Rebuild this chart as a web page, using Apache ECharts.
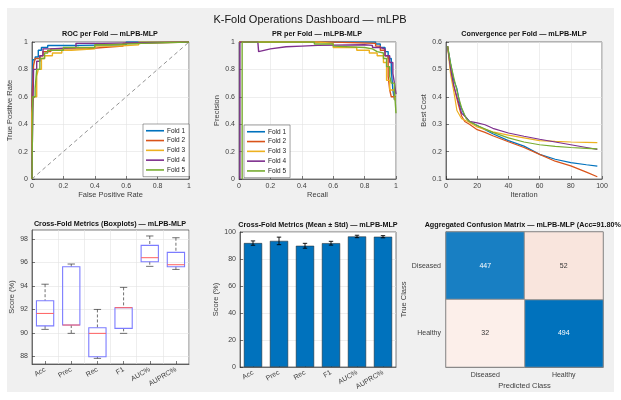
<!DOCTYPE html>
<html>
<head>
<meta charset="utf-8">
<script src="https://cdn.jsdelivr.net/npm/echarts@6/dist/echarts.min.js"></script>
<style>
  html, body { margin: 0; padding: 0; background: #fff; }
  #chart { width: 621px; height: 400px; }
</style>
</head>
<body>
<div id="chart"></div>
<script>
// ---- data ----
var foldNames = ['Fold 1', 'Fold 2', 'Fold 3', 'Fold 4', 'Fold 5'];
var foldColors = ['#0072BD', '#D95319', '#EDB120', '#7E2F8E', '#77AC30'];

// ROC curves [fpr, tpr]
var roc1 = [[0,0],[0,0.6],[0.005,0.6],[0.005,0.87],[0.02,0.87],[0.02,0.89],[0.04,0.89],[0.04,0.94],[0.06,0.94],[0.06,0.96],[0.1,0.96],[0.1,0.975],[0.3,0.975],[0.3,0.98],[0.6,0.98],[0.6,1],[1,1]];
var roc2 = [[0,0],[0,0.6],[0.01,0.6],[0.01,0.83],[0.02,0.83],[0.02,0.88],[0.05,0.88],[0.05,0.9],[0.07,0.9],[0.07,0.93],[0.12,0.93],[0.12,0.95],[0.35,0.95],[0.35,0.96],[0.45,0.96],[0.45,0.97],[0.58,0.97],[0.58,0.99],[0.65,0.99],[0.65,1],[1,1]];
var roc3 = [[0,0],[0,0.48],[0.01,0.48],[0.01,0.6],[0.03,0.6],[0.03,0.75],[0.04,0.75],[0.04,0.8],[0.06,0.8],[0.06,0.88],[0.08,0.88],[0.08,0.9],[0.13,0.9],[0.13,0.92],[0.19,0.92],[0.19,0.94],[0.25,0.94],[0.25,0.95],[0.4,0.95],[0.4,0.97],[0.55,0.97],[0.55,0.98],[0.68,0.98],[0.68,1],[1,1]];
var roc4 = [[0,0],[0,0.12],[0.01,0.12],[0.01,0.8],[0.03,0.8],[0.03,0.86],[0.05,0.86],[0.05,0.9],[0.07,0.9],[0.07,0.95],[0.12,0.95],[0.12,0.96],[0.28,0.96],[0.28,0.99],[0.45,0.99],[0.45,1],[1,1]];
var roc5 = [[0,0],[0.005,0],[0.005,0.6],[0.02,0.6],[0.02,0.66],[0.03,0.66],[0.03,0.8],[0.05,0.8],[0.05,0.88],[0.08,0.88],[0.08,0.92],[0.1,0.92],[0.1,0.94],[0.2,0.94],[0.2,0.96],[0.4,0.96],[0.4,0.98],[0.5,0.98],[0.5,0.99],[0.7,0.99],[0.7,1],[1,1]];
var chance = [[0,0],[1,1]];

// PR curves [recall, precision]
var pr1 = [[0,1],[0.87,1],[0.87,0.985],[0.9,0.985],[0.9,0.96],[0.93,0.96],[0.93,0.93],[0.95,0.93],[0.95,0.88],[0.97,0.88],[0.97,0.8],[0.98,0.8],[0.98,0.65],[0.99,0.65],[0.99,0.58],[1,0.58]];
var pr2 = [[0,1],[0.6,1],[0.6,0.99],[0.87,0.99],[0.87,0.97],[0.9,0.97],[0.9,0.94],[0.93,0.94],[0.93,0.9],[0.95,0.9],[0.95,0.75],[0.96,0.75],[0.96,0.65],[0.97,0.65],[0.97,0.6],[1,0.6]];
var pr3 = [[0,1],[0.5,1],[0.5,0.99],[0.6,0.99],[0.6,0.96],[0.75,0.96],[0.75,0.94],[0.83,0.94],[0.83,0.92],[0.88,0.92],[0.88,0.9],[0.92,0.9],[0.92,0.85],[0.94,0.85],[0.94,0.72],[0.96,0.72],[0.96,0.65],[0.99,0.65],[0.99,0.58],[1,0.58]];
var pr4 = [[0.006,0],[0.006,1],[0.12,1],[0.125,0.93],[0.2,0.95],[0.3,0.965],[0.4,0.97],[0.5,0.975],[0.8,0.98],[0.85,0.975],[0.85,0.96],[0.9,0.96],[0.9,0.95],[0.93,0.95],[0.93,0.9],[0.96,0.9],[0.96,0.85],[0.98,0.85],[0.98,0.77],[0.99,0.77],[0.99,0.7],[1,0.7],[1,0.62]];
var pr5 = [[0.02,0],[0.02,1],[0.48,1],[0.48,0.985],[0.6,0.985],[0.6,0.97],[0.8,0.96],[0.85,0.95],[0.88,0.93],[0.92,0.92],[0.92,0.88],[0.94,0.88],[0.94,0.82],[0.96,0.82],[0.96,0.75],[0.97,0.75],[0.97,0.7],[0.99,0.7],[0.99,0.65],[1,0.65],[1,0.48]];

// convergence [iteration, best cost]
var conv1 = [[1,0.585],[3,0.52],[5,0.46],[7,0.43],[9,0.37],[12,0.33],[15,0.31],[20,0.295],[25,0.28],[30,0.265],[40,0.24],[50,0.22],[60,0.19],[70,0.172],[80,0.16],[90,0.152],[97,0.147]];
var conv2 = [[1,0.585],[3,0.5],[5,0.44],[8,0.37],[10,0.33],[12,0.31],[15,0.3],[20,0.28],[25,0.27],[30,0.258],[40,0.236],[50,0.215],[60,0.19],[70,0.165],[80,0.148],[90,0.125],[97,0.108]];
var conv3 = [[1,0.585],[3,0.48],[5,0.42],[7,0.35],[10,0.32],[14,0.31],[20,0.29],[30,0.272],[40,0.26],[50,0.25],[60,0.24],[70,0.237],[80,0.235],[90,0.234],[97,0.233]];
var conv4 = [[1,0.585],[3,0.5],[5,0.44],[8,0.38],[10,0.34],[12,0.33],[15,0.31],[20,0.305],[25,0.298],[30,0.285],[40,0.268],[50,0.256],[60,0.245],[70,0.235],[80,0.225],[90,0.215],[97,0.208]];
var conv5 = [[1,0.585],[3,0.52],[5,0.47],[8,0.4],[10,0.36],[13,0.32],[15,0.31],[20,0.295],[30,0.27],[40,0.25],[50,0.235],[60,0.225],[70,0.219],[80,0.215],[90,0.212],[97,0.21]];

// metrics
var metricNames = ['Acc', 'Prec', 'Rec', 'F1', 'AUC%', 'AUPRC%'];
// [lowWhisker, q1, median, q3, highWhisker]
var boxStats = [
  [90.3, 90.6, 91.66, 92.74, 94.15],
  [89.96, 90.67, 90.67, 95.64, 95.87],
  [87.83, 87.97, 89.96, 90.44, 92.0],
  [89.96, 90.39, 92.15, 92.15, 93.88],
  [95.67, 96.07, 96.41, 97.46, 98.26],
  [95.41, 95.64, 95.81, 96.86, 98.11]
];
var boxTicks = [88, 90, 92, 94, 96, 98];
var meanScores = [91.8, 93.4, 89.8, 91.7, 96.7, 96.5];
var stdScores = [1.6, 2.8, 1.8, 1.4, 0.9, 0.8];

// confusion matrix rows = true class, cols = predicted class
var cmClasses = ['Diseased', 'Healthy'];
var cmCounts = [[447, 52], [32, 494]];

// ---- build ----
var font = 'Liberation Sans, Arial, sans-serif';
var axisCol = '#262626';
var labCol = '#404040';
var gridCol = '#e3e3e3';

var grids = [
  { left: 32, top: 42, width: 157, height: 137 },
  { left: 239, top: 42, width: 157, height: 137 },
  { left: 446, top: 42, width: 156, height: 137 },
  { left: 32, top: 230, width: 157, height: 134 },
  { left: 240, top: 232, width: 156, height: 135 },
  { left: 446, top: 232, width: 157, height: 135 }
].map(function (g) {
  return Object.assign({ show: true, backgroundColor: '#fff', borderColor: axisCol, borderWidth: 0.6 }, g);
});

function valAxis(gi, min, max, interval, name, gap) {
  return {
    type: 'value', gridIndex: gi, min: min, max: max, interval: interval,
    name: name, nameLocation: 'middle', nameGap: gap,
    nameTextStyle: { fontFamily: font, fontSize: 7.5, color: labCol },
    axisLine: { show: true, lineStyle: { color: axisCol, width: 0.6 } },
    axisTick: { show: true, inside: true, length: 3, lineStyle: { color: axisCol, width: 0.6 } },
    axisLabel: { fontFamily: font, fontSize: 7, color: labCol, margin: 4 },
    splitLine: { show: true, lineStyle: { color: gridCol, width: 0.6 } }
  };
}
function catAxis(gi, data, name, gap, rotate) {
  return {
    type: 'category', gridIndex: gi, data: data,
    name: name, nameLocation: 'middle', nameGap: gap,
    nameTextStyle: { fontFamily: font, fontSize: 7.5, color: labCol },
    axisLine: { show: true, lineStyle: { color: axisCol, width: 0.6 } },
    axisTick: { show: true, inside: true, alignWithLabel: true, length: 3, lineStyle: { color: axisCol, width: 0.6 } },
    axisLabel: { fontFamily: font, fontSize: 7, color: labCol, rotate: rotate || 0, margin: 5, interval: 0 },
    splitLine: { show: true, interval: 0, lineStyle: { color: gridCol, width: 0.6 } }
  };
}

var xAxes = [
  valAxis(0, 0, 1, 0.2, 'False Positive Rate', 12),
  valAxis(1, 0, 1, 0.2, 'Recall', 12),
  valAxis(2, 0, 100, 20, 'Iteration', 12),
  catAxis(3, metricNames, '', 0, 30),
  catAxis(4, metricNames, '', 0, 30),
  catAxis(5, cmClasses, 'Predicted Class', 15, 0)
];
xAxes[4].splitLine.show = false;
xAxes[5].splitLine.show = false;
xAxes[5].axisTick.show = false;

var yBox = valAxis(3, 87.35, 98.77, null, 'Score (%)', 11);
delete yBox.interval;
yBox.axisLabel.customValues = boxTicks;
yBox.axisTick.customValues = boxTicks;
yBox.splitLine.show = false;

var yCm = catAxis(5, cmClasses.slice().reverse(), 'True Class', 31, 0);
yCm.splitLine.show = false;
yCm.axisTick.show = false;

var yAxes = [
  valAxis(0, 0, 1, 0.2, 'True Positive Rate', 10),
  valAxis(1, 0, 1, 0.2, 'Precision', 11),
  valAxis(2, 0.1, 0.6, 0.1, 'Best Cost', 13),
  yBox,
  valAxis(4, 0, 100, 20, 'Score (%)', 13),
  yCm
];

var series = [];
[roc1, roc2, roc3, roc4, roc5].forEach(function (d, i) {
  series.push({ name: foldNames[i], type: 'line', xAxisIndex: 0, yAxisIndex: 0, data: d, symbol: 'none',
    color: foldColors[i], lineStyle: { width: 1.4 } });
});
series.push({ type: 'line', xAxisIndex: 0, yAxisIndex: 0, data: chance, symbol: 'none', z: 1,
  lineStyle: { color: '#777', width: 0.8, type: [4, 3] } });
[pr1, pr2, pr3, pr4, pr5].forEach(function (d, i) {
  series.push({ name: foldNames[i], type: 'line', xAxisIndex: 1, yAxisIndex: 1, data: d, symbol: 'none',
    color: foldColors[i], lineStyle: { width: 1.4 } });
});
[conv1, conv2, conv3, conv4, conv5].forEach(function (d, i) {
  series.push({ name: foldNames[i], type: 'line', xAxisIndex: 2, yAxisIndex: 2, data: d, symbol: 'none',
    color: foldColors[i], lineStyle: { width: 1.2 } });
});

// boxplots
series.push({
  type: 'custom', xAxisIndex: 3, yAxisIndex: 3,
  data: boxStats.map(function (s, i) { return [i].concat(s); }),
  encode: { x: 0, y: [1, 2, 3, 4, 5] },
  renderItem: function (params, api) {
    var x = api.value(0);
    var lo = api.coord([x, api.value(1)]);
    var q1 = api.coord([x, api.value(2)]);
    var md = api.coord([x, api.value(3)]);
    var q3 = api.coord([x, api.value(4)]);
    var hi = api.coord([x, api.value(5)]);
    var w = api.size([1, 0])[0];
    var bw = w * 0.33, cw = w * 0.14, cx = lo[0];
    var dash = { stroke: '#333', lineWidth: 0.7, lineDash: [3, 2] };
    var solid = { stroke: '#333', lineWidth: 0.7 };
    return { type: 'group', children: [
      { type: 'line', shape: { x1: cx, y1: hi[1], x2: cx, y2: q3[1] }, style: dash },
      { type: 'line', shape: { x1: cx, y1: q1[1], x2: cx, y2: lo[1] }, style: dash },
      { type: 'line', shape: { x1: cx - cw, y1: hi[1], x2: cx + cw, y2: hi[1] }, style: solid },
      { type: 'line', shape: { x1: cx - cw, y1: lo[1], x2: cx + cw, y2: lo[1] }, style: solid },
      { type: 'rect', shape: { x: cx - bw, y: q3[1], width: 2 * bw, height: q1[1] - q3[1] },
        style: { fill: 'none', stroke: '#7c7cff', lineWidth: 1.1 } },
      { type: 'line', shape: { x1: cx - bw, y1: md[1], x2: cx + bw, y2: md[1] }, style: { stroke: '#ff6060', lineWidth: 1 } }
    ] };
  },
  markLine: {
    silent: true, symbol: 'none', label: { show: false }, z: 0,
    lineStyle: { color: gridCol, width: 0.6, type: 'solid' },
    data: boxTicks.map(function (t) { return { yAxis: t }; })
  }
});

// mean bars + std error bars
series.push({
  type: 'bar', xAxisIndex: 4, yAxisIndex: 4, data: meanScores, barWidth: '70%',
  itemStyle: { color: '#0072BD', borderColor: '#222', borderWidth: 0.5 }
});
series.push({
  type: 'custom', xAxisIndex: 4, yAxisIndex: 4, z: 5,
  data: meanScores.map(function (m, i) { return [i, m - stdScores[i], m + stdScores[i]]; }),
  encode: { x: 0, y: [1, 2] },
  renderItem: function (params, api) {
    var x = api.value(0);
    var lo = api.coord([x, api.value(1)]);
    var hi = api.coord([x, api.value(2)]);
    var c = 2.2, st = { stroke: '#000', lineWidth: 0.9 };
    return { type: 'group', children: [
      { type: 'line', shape: { x1: lo[0], y1: lo[1], x2: hi[0], y2: hi[1] }, style: st },
      { type: 'line', shape: { x1: lo[0] - c, y1: lo[1], x2: lo[0] + c, y2: lo[1] }, style: st },
      { type: 'line', shape: { x1: hi[0] - c, y1: hi[1], x2: hi[0] + c, y2: hi[1] }, style: st }
    ] };
  }
});

// confusion matrix (diagonal and off-diagonal coloured separately)
var cmDiag = [], cmOff = [];
cmCounts.forEach(function (row, r) {
  row.forEach(function (v, c) {
    var item = [cmClasses[c], cmClasses[r], v];
    (r === c ? cmDiag : cmOff).push(item);
  });
});
var cmLabel = function (col) {
  return { show: true, fontFamily: font, fontSize: 7, color: col };
};
series.push({ type: 'heatmap', xAxisIndex: 5, yAxisIndex: 5, data: cmDiag,
  itemStyle: { borderColor: '#8c8c8c', borderWidth: 1 }, label: cmLabel('#fff') });
series.push({ type: 'heatmap', xAxisIndex: 5, yAxisIndex: 5, data: cmOff,
  itemStyle: { borderColor: '#8c8c8c', borderWidth: 1 }, label: cmLabel('#333') });
var diagIdx = series.length - 2, offIdx = series.length - 1;

function legendAt(left, top) {
  return {
    data: foldNames, orient: 'vertical', left: left, top: top,
    icon: 'rect', itemWidth: 18, itemHeight: 1.6, itemGap: 2.3, padding: [3, 4, 3, 3],
    backgroundColor: '#fff', borderColor: '#444', borderWidth: 0.5, borderRadius: 0,
    textStyle: { fontFamily: font, fontSize: 6.5, color: '#222', padding: [0, 0, 0, -2], lineHeight: 7.5 },
    selectedMode: false
  };
}

function title(x, y, s, size, weight) {
  return { type: 'text', x: x, y: y, silent: true,
    style: { text: s, fontFamily: font, fontSize: size, fontWeight: weight, fill: '#111',
      align: 'center', verticalAlign: 'middle' } };
}

var chart = echarts.init(document.getElementById('chart'), null, { renderer: 'canvas' });
var option = {
  animation: false,
  backgroundColor: '#fff',
  textStyle: { fontFamily: font },
  grid: grids,
  xAxis: xAxes,
  yAxis: yAxes,
  legend: [legendAt(143, 124), legendAt(244, 125)],
  visualMap: [
    { show: false, type: 'continuous', seriesIndex: diagIdx, dimension: 2, min: 0, max: 494,
      inRange: { color: ['#ffffff', '#0072BD'] } },
    { show: false, type: 'continuous', seriesIndex: offIdx, dimension: 2, min: 0, max: 350,
      inRange: { color: ['#ffffff', '#D95319'] } }
  ],
  graphic: [
    { type: 'rect', left: 7, top: 8, z: -100, silent: true, shape: { width: 607, height: 384 }, style: { fill: '#f0f0f0' } },
    title(310, 20, 'K-Fold Operations Dashboard — mLPB', 11, 'normal'),
    title(110, 34, 'ROC per Fold — mLPB-MLP', 7.2, 'bold'),
    title(317, 34, 'PR per Fold — mLPB-MLP', 7.2, 'bold'),
    title(524, 34, 'Convergence per Fold — mLPB-MLP', 7.2, 'bold'),
    title(110, 224, 'Cross-Fold Metrics (Boxplots) — mLPB-MLP', 7.2, 'bold'),
    title(318, 225, 'Cross-Fold Metrics (Mean ± Std) — mLPB-MLP', 7.2, 'bold'),
    title(524, 225, 'Aggregated Confusion Matrix — mLPB-MLP (Acc=91.80%)', 7.2, 'bold')
  ],
  series: series
};
chart.setOption(option);
</script>
</body>
</html>
